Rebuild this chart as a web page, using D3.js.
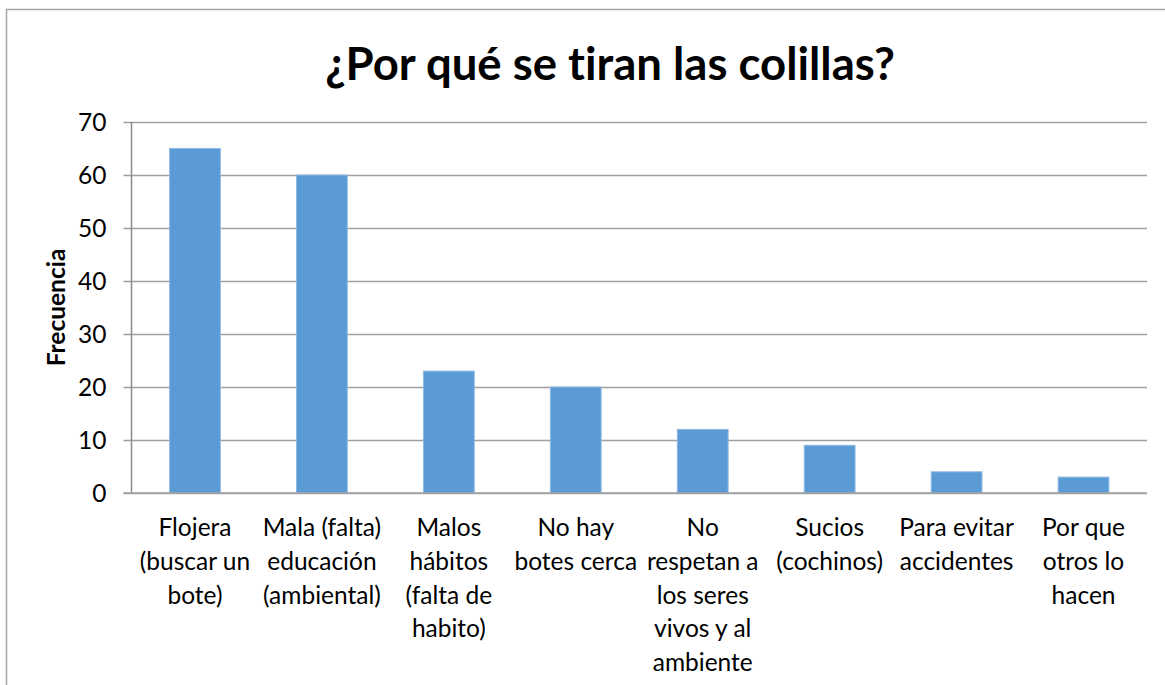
<!DOCTYPE html>
<html>
<head>
<meta charset="utf-8">
<script src="https://cdn.jsdelivr.net/npm/d3@7"></script>
<style>
  html, body { margin: 0; padding: 0; background: #fff; }
  svg { display: block; }
  text { font-family: Lato, "Open Sans", sans-serif; fill: #000; font-variant-ligatures: none; }
</style>
</head>
<body>
<svg id="chart" width="1165" height="685"></svg>
<script>
// Survey answers: why cigarette butts get thrown on the ground
const categories = [
  ["Flojera", "(buscar un", "bote)"],
  ["Mala (falta)", "educación", "(ambiental)"],
  ["Malos", "hábitos", "(falta de", "habito)"],
  ["No hay", "botes cerca"],
  ["No", "respetan a", "los seres", "vivos y al", "ambiente"],
  ["Sucios", "(cochinos)"],
  ["Para evitar", "accidentes"],
  ["Por que", "otros lo", "hacen"]
];
const frecuencia = [65, 60, 23, 20, 12, 9, 4, 3];
const yTicks = [0, 10, 20, 30, 40, 50, 60, 70];
const title = "¿Por qué se tiran las colillas?";
const yTitle = "Frecuencia";

const svg = d3.select("#chart");

// outer chart frame
svg.append("rect")
  .attr("x", 6.5).attr("y", 9.5)
  .attr("width", 1200).attr("height", 700)
  .attr("fill", "#fff")
  .attr("stroke", "#a6a6a6").attr("stroke-width", 1.5);

const plot = { left: 131.5, right: 1147, top: 122, bottom: 493 };

const x = d3.scaleBand()
  .domain(d3.range(categories.length))
  .range([plot.left, plot.right])
  .paddingInner(0.6).paddingOuter(0.3);

const y = d3.scaleLinear().domain([0, 70]).range([plot.bottom, plot.top]);

// horizontal gridlines with short tick stubs on the left
const yAxis = d3.axisLeft(y).tickValues(yTicks).tickSize(-(plot.right - plot.left)).tickPadding(25);
const gy = svg.append("g").attr("transform", `translate(${plot.left},0)`).call(yAxis);
gy.select(".domain").remove();
gy.selectAll(".tick line")
  .attr("x1", -8)
  .attr("stroke", "#a0a0a0").attr("stroke-width", 1.5);
gy.selectAll(".tick text")
  .attr("font-size", 24.5).attr("font-family", "Lato, sans-serif")
  .attr("fill", "#000").attr("dy", "0.36em");

// vertical axis line
svg.append("line")
  .attr("x1", plot.left).attr("x2", plot.left)
  .attr("y1", plot.top).attr("y2", plot.bottom)
  .attr("stroke", "#8c8c8c").attr("stroke-width", 1.5);

// bars
svg.append("g").selectAll("rect")
  .data(frecuencia)
  .join("rect")
  .attr("x", (d, i) => x(i))
  .attr("width", x.bandwidth())
  .attr("y", d => y(d))
  .attr("height", d => y(0) - y(d))
  .attr("fill", "#5b9bd5")
  .attr("stroke", "#8fb9e2").attr("stroke-width", 1);

// baseline drawn over bars
svg.append("line")
  .attr("x1", plot.left - 8).attr("x2", plot.right)
  .attr("y1", y(0)).attr("y2", y(0))
  .attr("stroke", "#a0a0a0").attr("stroke-width", 1.5);

// category labels (multi-line)
const lab = svg.append("g").selectAll("text")
  .data(categories)
  .join("text")
  .attr("text-anchor", "middle")
  .attr("font-size", 24.5)
  .attr("x", (d, i) => x(i) + x.bandwidth() / 2)
  .attr("y", 536);
lab.selectAll("tspan")
  .data(d => d)
  .join("tspan")
  .attr("x", function () { return d3.select(this.parentNode).attr("x"); })
  .attr("dy", (d, i) => i === 0 ? 0 : 33.8)
  .text(d => d);

// title
svg.append("text")
  .attr("x", 610).attr("y", 80)
  .attr("text-anchor", "middle")
  .attr("font-size", 45.5).attr("font-weight", "bold")
  .text(title);

// y-axis title
svg.append("text")
  .attr("transform", `translate(65,${(plot.top + plot.bottom) / 2}) rotate(-90)`)
  .attr("text-anchor", "middle")
  .attr("font-size", 24.5).attr("font-weight", "bold")
  .text(yTitle);
</script>
</body>
</html>
